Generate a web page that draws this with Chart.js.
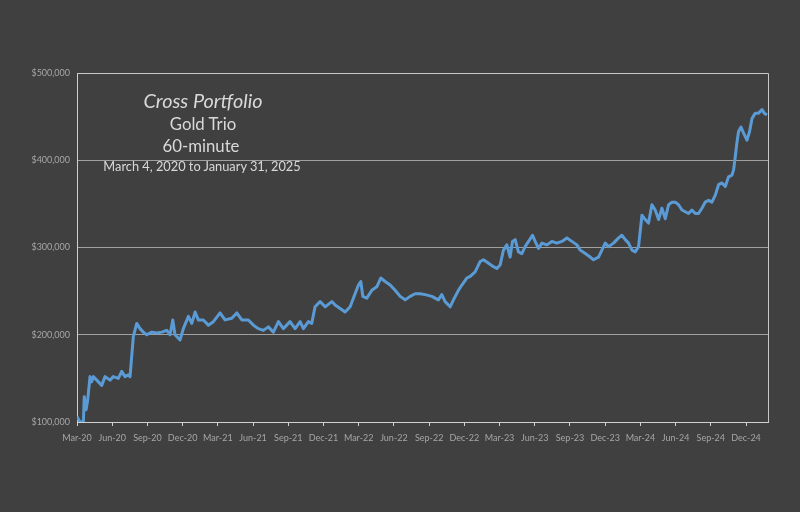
<!DOCTYPE html>
<html>
<head>
<meta charset="utf-8">
<script src="https://cdn.jsdelivr.net/npm/chart.js@4.4.1/dist/chart.umd.min.js"></script>
<style>
  html, body { margin: 0; padding: 0; background: #404040; }
  #wrap { position: relative; width: 800px; height: 512px; }
  canvas { display: block; }
  .t { position: absolute; color: #d9d9d9; font-family: Lato, "Liberation Sans", Arial, sans-serif; white-space: nowrap; transform: translate(-50%, -50%); line-height: 1; }
</style>
</head>
<body>
<div id="wrap">
  <canvas id="c" width="800" height="512"></canvas>
  <div class="t" data-w="119" style="left:203px; top:101px; font-size:19px; font-style:italic;">Cross Portfolio</div>
  <div class="t" data-w="67" style="left:203px; top:124px; font-size:17px;">Gold Trio</div>
  <div class="t" data-w="77" style="left:201px; top:146px; font-size:17px;">60-minute</div>
  <div class="t" data-w="198" style="left:202px; top:166px; font-size:13px;">March 4, 2020 to January 31, 2025</div>
</div>
<script>
// months elapsed since March 4, 2020
const monthIdx = [
  0, 0.26, 0.54, 0.62, 0.77, 0.91, 1.11, 1.25, 1.39, 1.68, 2.11, 2.39, 2.81, 3.09, 3.52, 3.81, 4.09, 4.37, 4.52,
  4.80, 5.09, 5.37, 5.65, 5.94, 6.37, 6.79, 7.22, 7.65, 7.93, 8.16, 8.35, 8.78, 9.06, 9.49, 9.78, 10.06, 10.34,
  10.76, 11.19, 11.62, 12.19, 12.61, 13.19, 13.61, 14.04, 14.60, 15.03, 15.45, 15.88, 16.30, 16.73, 17.16, 17.58,
  18.15, 18.58, 19.01, 19.29, 19.71, 20.00, 20.28, 20.71, 21.14, 21.71, 21.99, 22.42, 22.84, 23.27, 23.69, 23.98,
  24.18, 24.35, 24.69, 25.12, 25.54, 25.88, 26.25, 26.68, 27.10, 27.53, 27.96, 28.38, 28.81, 29.23, 29.66, 30.23,
  30.79, 31.08, 31.36, 31.79, 32.07, 32.50, 32.79, 33.21, 33.50, 33.92, 34.35, 34.63, 35.06, 35.48, 35.77, 36.05,
  36.33, 36.62, 36.90, 37.10, 37.33, 37.61, 37.90, 38.18, 38.47, 38.81, 39.03, 39.32, 39.61, 40.03, 40.46, 40.88,
  41.31, 41.74, 42.16, 42.59, 42.87, 43.30, 43.72, 44.00, 44.43, 44.72, 45.00, 45.28, 45.71, 46.14, 46.42, 46.71,
  46.99, 47.28, 47.56, 47.84, 48.13, 48.41, 48.69, 48.98, 49.26, 49.55, 49.83, 50.12, 50.40, 50.69, 50.97, 51.25,
  51.54, 51.82, 52.10, 52.39, 52.67, 52.95, 53.24, 53.52, 53.81, 54.09, 54.38, 54.66, 54.95, 55.23, 55.51, 55.80,
  55.94, 56.08, 56.23, 56.36, 56.57, 56.79, 57.08, 57.30, 57.51, 57.79, 58.07, 58.36, 58.55, 58.78
];
const equity = [
  106000, 100000, 100000, 129000, 114000, 125000, 152000, 146000, 152000, 148000, 142000, 152000, 148000, 152000, 150000, 158000, 152000, 154000, 152000,
  198000, 213000, 207000, 203000, 200000, 203000, 202000, 203000, 205000, 200000, 217000, 200000, 194000, 207000, 221000, 213000, 226000, 217000,
  217000, 211000, 215000, 225000, 217000, 219000, 225000, 217000, 217000, 211000, 207000, 205000, 209000, 203000, 215000, 207000,
  215000, 207000, 215000, 207000, 215000, 213000, 232000, 238000, 232000, 238000, 234000, 230000, 226000, 232000, 247000, 257000,
  261000, 244000, 242000, 251000, 255000, 265000, 261000, 257000, 251000, 244000, 240000, 244000, 247000, 247000, 246000, 244000,
  240000, 246000, 238000, 232000, 240000, 251000, 257000, 265000, 267000, 272000, 284000, 286000, 282000, 278000, 276000, 280000,
  297000, 303000, 289000, 307000, 309000, 295000, 293000, 301000, 307000, 314000, 307000, 299000, 305000, 303000, 307000, 305000,
  307000, 311000, 307000, 303000, 297000, 293000, 289000, 286000, 289000, 297000, 305000, 301000, 305000, 311000, 314000, 309000,
  305000, 297000, 295000, 301000, 337000, 332000, 328000, 349000, 343000, 332000, 345000, 333000, 349000, 352000, 352000, 349000,
  343000, 341000, 339000, 343000, 339000, 339000, 345000, 352000, 354000, 352000, 360000, 372000, 374000, 370000, 381000, 383000,
  389000, 404000, 421000, 433000, 438000, 431000, 423000, 433000, 448000, 454000, 454000, 458000, 454000, 452000
];
const xTickLabels = ['Mar-20','Jun-20','Sep-20','Dec-20','Mar-21','Jun-21','Sep-21','Dec-21','Mar-22','Jun-22',
  'Sep-22','Dec-22','Mar-23','Jun-23','Sep-23','Dec-23','Mar-24','Jun-24','Sep-24','Dec-24'];
const yTickValues = [100000, 200000, 300000, 400000, 500000];
const xEnd = 58.87; // January 31, 2025

// fit the title lines to their widths in the reference
(function fitTitles() {
  const m = document.createElement('canvas').getContext('2d');
  document.querySelectorAll('.t').forEach(el => {
    const cs = getComputedStyle(el);
    const size = parseFloat(cs.fontSize);
    m.font = `${cs.fontStyle} ${cs.fontWeight} ${size}px ${cs.fontFamily}`;
    const w = m.measureText(el.textContent).width;
    const target = parseFloat(el.dataset.w);
    if (w > 0) el.style.fontSize = (size * target / w).toFixed(2) + 'px';
  });
})();

const points = monthIdx.map((m, i) => ({ x: m, y: equity[i] }));

const frame = {
  id: 'frame',
  afterDatasetsDraw(chart) {
    const { ctx, chartArea: a } = chart;
    ctx.save();
    ctx.strokeStyle = '#c8c8c8';
    ctx.lineWidth = 1;
    ctx.beginPath();
    ctx.moveTo(Math.round(a.left) + 0.5, Math.round(a.top) + 0.5);
    ctx.lineTo(Math.round(a.right) + 0.5, Math.round(a.top) + 0.5);
    ctx.lineTo(Math.round(a.right) + 0.5, Math.round(a.bottom) + 0.5);
    ctx.stroke();
    ctx.restore();
  }
};

const tickFont = { family: 'Lato, "Liberation Sans", Arial, sans-serif', size: 9 };

new Chart(document.getElementById('c'), {
  type: 'line',
  data: {
    datasets: [{
      data: points,
      borderColor: '#5b9bd5',
      borderWidth: 3,
      pointRadius: 0,
      tension: 0,
      borderJoinStyle: 'round',
      fill: false
    }]
  },
  options: {
    responsive: false,
    animation: false,
    layout: { padding: { left: 0, top: 73, right: 32, bottom: 0 } },
    plugins: { legend: { display: false }, tooltip: { enabled: false } },
    scales: {
      x: {
        type: 'linear',
        min: 0,
        max: xEnd,
        afterFit: (s) => { s.height = 90; },
        border: { display: true, color: '#d0d0d0', width: 1 },
        grid: { drawOnChartArea: false, drawTicks: true, tickLength: 4, color: '#d0d0d0' },
        ticks: {
          stepSize: 3,
          includeBounds: false,
          autoSkip: false,
          maxRotation: 0,
          padding: 7,
          color: '#a6a6a6',
          font: tickFont,
          callback: (v) => (v % 3 === 0 ? xTickLabels[v / 3] : '')
        }
      },
      y: {
        min: 100000,
        max: 500000,
        afterFit: (s) => { s.width = 77; },
        afterBuildTicks: (s) => { s.ticks = yTickValues.map(v => ({ value: v })); },
        border: { display: true, color: '#d0d0d0', width: 1 },
        grid: {
          drawTicks: false,
          color: (c) => (c.tick && (c.tick.value === 100000 || c.tick.value === 500000)) ? 'rgba(0,0,0,0)' : '#a0a0a0',
          lineWidth: 1
        },
        ticks: {
          padding: 7,
          color: '#a6a6a6',
          font: tickFont,
          callback: (v) => '$' + Number(v).toLocaleString('en-US')
        }
      }
    }
  },
  plugins: [frame]
});
</script>
</body>
</html>
